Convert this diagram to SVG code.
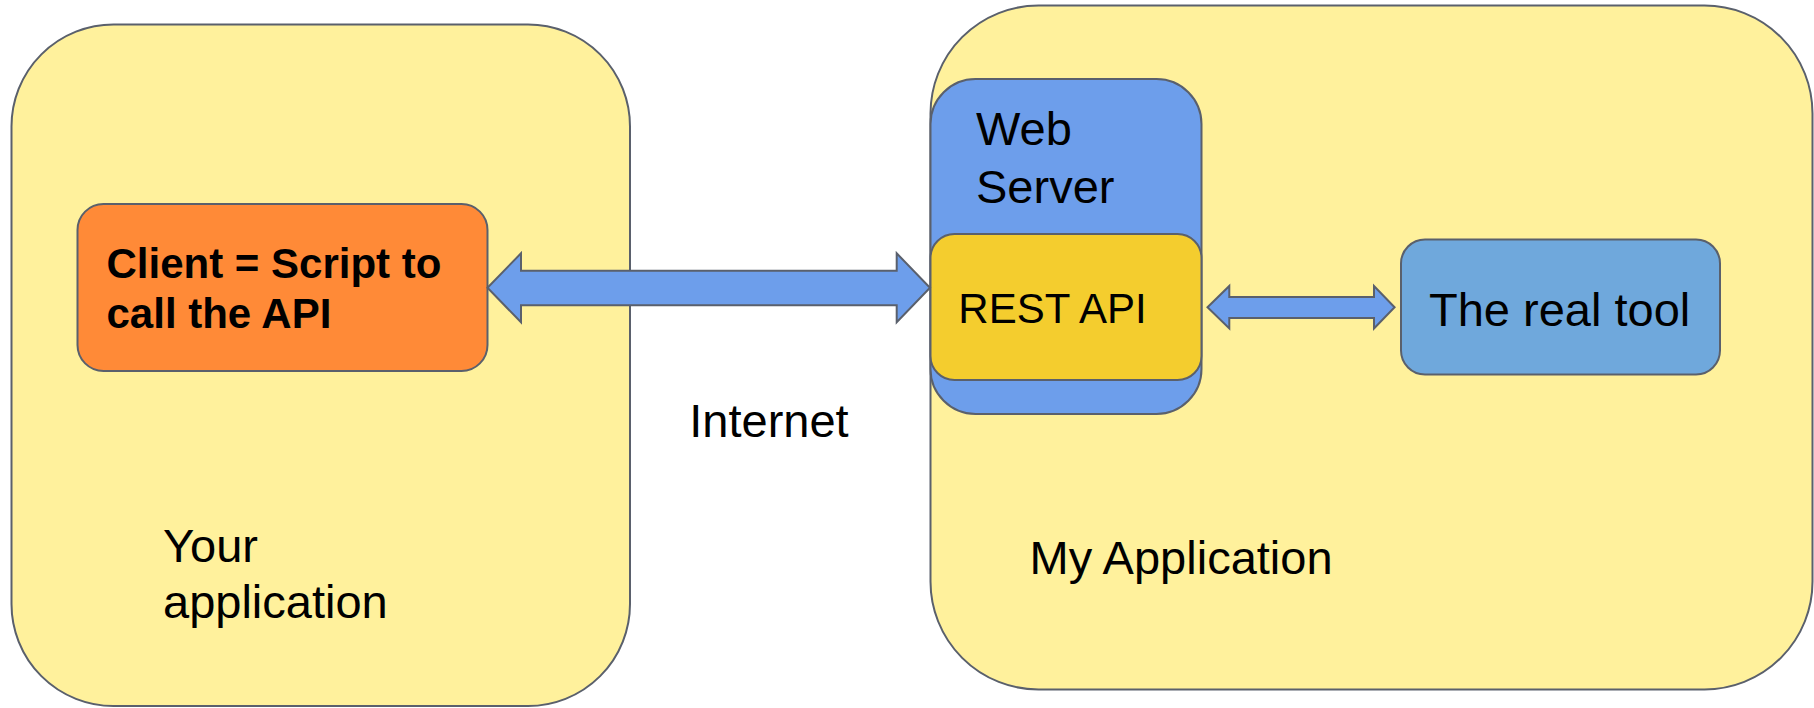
<svg xmlns="http://www.w3.org/2000/svg" width="1814" height="708" viewBox="0 0 1814 708">
<style>
.b{stroke:#5a606c;stroke-width:2}
.app{fill:#fff19c}
.t{font-family:"Liberation Sans",Arial,sans-serif;fill:#000}
.arrow{fill:#6d9eeb;stroke:#5a606c;stroke-width:2;stroke-linejoin:miter}
</style>
<rect width="1814" height="708" fill="#ffffff"/>
<g id="your-application">
<rect class="b app" x="11.5" y="24.5" width="618.5" height="681.5" rx="102" ry="102"/>
<text class="t" x="163" y="561.7" font-size="47">Your</text>
<text class="t" x="163" y="617.7" font-size="47">application</text>
</g>
<g id="my-application">
<rect class="b app" x="930.5" y="5.5" width="882" height="684" rx="108" ry="108"/>
<text class="t" x="1029.5" y="574.3" font-size="47">My Application</text>
</g>
<g id="client">
<rect class="b" fill="#ff8a37" x="77.5" y="204" width="410" height="167" rx="26" ry="26"/>
<text class="t" x="106.5" y="278.3" font-size="42" font-weight="bold">Client = Script to</text>
<text class="t" x="106.5" y="327.7" font-size="42" font-weight="bold">call the API</text>
</g>
<g id="web-server">
<rect class="b" fill="#6d9eeb" x="930.5" y="79" width="271" height="335" rx="45" ry="45"/>
<text class="t" x="976" y="145" font-size="47">Web</text>
<text class="t" x="976" y="202.7" font-size="47">Server</text>
</g>
<g id="rest-api">
<rect class="b" fill="#f4cd2e" x="930.5" y="234" width="271" height="146" rx="24" ry="24"/>
<text class="t" x="958.3" y="322.7" font-size="42">REST API</text>
</g>
<g id="real-tool">
<rect class="b" fill="#6fa8dc" x="1401" y="239.5" width="319" height="135" rx="24" ry="24"/>
<text class="t" x="1429" y="326" font-size="47">The real tool</text>
</g>
<g id="internet-label">
<text class="t" x="689.3" y="437.3" font-size="47">Internet</text>
</g>
<g id="connectors">
<polygon class="arrow" points="487.5,287.8 521,253.3 521,270.7 896.7,270.7 896.7,253.3 930,287.8 896.7,322.3 896.7,305.3 521,305.3 521,322.3"/>
<polygon class="arrow" points="1207.5,307.3 1229.3,286 1229.3,297 1374,297 1374,286 1394.6,307.3 1374,328.5 1374,318 1229.3,318 1229.3,328.5"/>
</g>
</svg>
